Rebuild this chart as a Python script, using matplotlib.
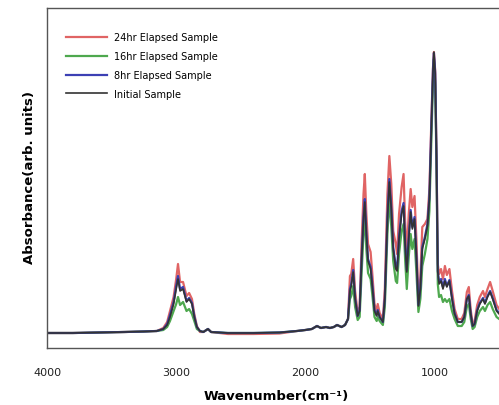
import numpy as np
import matplotlib.pyplot as plt

plt.rcParams['font.family'] = ['DejaVu Sans']

# FTIR spectra, absorbance in arbitrary units
wavenumber = [4000, 3800, 3600, 3400, 3250, 3150, 3100, 3070, 3048, 3020,
              3000, 2986, 2970, 2947, 2920, 2900, 2878, 2860, 2840, 2816,
              2790, 2754, 2730, 2600, 2400, 2200, 2065, 2000, 1950, 1910,
              1880, 1840, 1810, 1780, 1755, 1720, 1693, 1670, 1655, 1645,
              1630, 1615, 1595, 1580, 1565, 1550, 1540, 1528, 1515, 1495,
              1480, 1465, 1448, 1440, 1425, 1400, 1385, 1365, 1350, 1335,
              1320, 1300, 1290, 1275, 1255, 1240, 1228, 1215, 1200, 1185,
              1172, 1155, 1140, 1125, 1110, 1095, 1075, 1055, 1040, 1025,
              1012, 1005, 995, 985, 975, 965, 950, 935, 920, 905,
              885, 865, 845, 820, 790, 770, 750, 735, 720, 705,
              690, 670, 650, 625, 610, 590, 570, 550, 520, 500,
              470, 440, 400]

initial = [15, 15, 15.5, 16, 16.5, 17, 19, 23, 31, 44,
           59, 69, 57, 59, 46, 49, 44, 31, 21, 17,
           16, 19, 16, 15, 15, 15.5, 17, 18, 19, 22,
           20, 21, 20, 21, 23, 21, 23, 29, 57, 62,
           76, 49, 32, 37, 87, 129, 146, 114, 87, 79,
           59, 37, 32, 37, 31, 26, 49, 129, 166, 139,
           99, 79, 77, 109, 134, 142, 104, 76, 109, 136,
           119, 129, 89, 42, 59, 99, 109, 122, 149, 219,
           277, 296, 274, 189, 76, 64, 67, 59, 67, 61,
           67, 49, 34, 26, 26, 31, 49, 52, 34, 22,
           24, 37, 44, 49, 44, 51, 56, 49, 37, 34,
           31, 34, 31]

hr8 = [15, 15, 15.5, 16, 16.5, 17, 19, 24, 33, 46,
       62, 72, 59, 61, 47, 50, 45, 32, 21, 17,
       16, 19, 16, 15, 15, 15.5, 17, 18, 19, 22,
       20, 21, 20, 21, 23, 21, 23, 29, 59, 64,
       78, 50, 32, 38, 89, 132, 149, 116, 89, 81,
       61, 38, 33, 38, 31, 26, 50, 131, 169, 141,
       101, 81, 79, 111, 137, 145, 106, 78, 111, 138,
       121, 131, 91, 43, 60, 101, 111, 124, 151, 221,
       279, 295, 275, 191, 77, 66, 69, 61, 69, 62,
       68, 50, 35, 26, 26, 31, 49, 53, 34, 22,
       24, 38, 45, 50, 45, 52, 57, 50, 38, 35,
       32, 35, 32]

hr16 = [15, 15, 15.5, 16, 16.5, 17, 18, 21, 27, 37,
        44, 51, 43, 46, 37, 39, 34, 27, 19, 17,
        16, 19, 16, 15, 15, 15.5, 17, 18, 19, 22,
        20, 21, 20, 21, 23, 21, 23, 29, 49, 52,
        62, 41, 28, 31, 74, 114, 132, 99, 75, 69,
        51, 31, 27, 31, 27, 23, 41, 114, 149, 121,
        87, 67, 65, 94, 117, 124, 89, 59, 91, 114,
        99, 109, 74, 36, 49, 82, 94, 109, 137, 207,
        267, 289, 264, 179, 64, 51, 53, 46, 49, 46,
        49, 37, 29, 22, 22, 26, 41, 44, 29, 19,
        21, 31, 37, 41, 37, 43, 46, 39, 31, 29,
        27, 29, 27]

hr24 = [15, 15, 15.5, 16, 16.5, 17, 20, 26, 37, 51,
        69, 84, 66, 66, 52, 55, 49, 34, 22, 16,
        16, 19, 16, 14, 14, 14.5, 17, 18, 19, 22,
        20, 21, 20, 21, 23, 21, 23, 29, 72, 74,
        89, 57, 35, 41, 104, 154, 174, 134, 104, 96,
        71, 44, 37, 44, 35, 29, 59, 154, 192, 164,
        117, 104, 94, 134, 161, 174, 127, 94, 134, 159,
        141, 152, 107, 49, 71, 121, 124, 129, 159, 227,
        281, 296, 277, 194, 84, 74, 79, 69, 82, 73,
        79, 57, 39, 29, 29, 35, 56, 61, 38, 24,
        27, 43, 51, 57, 51, 59, 66, 57, 43, 39,
        36, 39, 36]

fig = plt.figure(figsize=(4.99, 4.06), dpi=100)
ax = fig.add_axes([0.0942, 0.1404, 0.932, 0.8374])

ax.plot(wavenumber, hr24, color='#e06464', lw=1.6, label='24hr Elapsed Sample')
ax.plot(wavenumber, hr16, color='#4ea84e', lw=1.6, label='16hr Elapsed Sample')
ax.plot(wavenumber, hr8, color='#3c40b4', lw=1.6, label='8hr Elapsed Sample')
ax.plot(wavenumber, initial, color='#333333', lw=1.2, label='Initial Sample')

ax.set_xlim(4000, 400)
ax.set_ylim(0, 340)
ax.set_xticks([4000, 3000, 2000, 1000])
ax.set_yticks([])
ax.tick_params(axis='x', length=0, pad=14, labelsize=8, labelcolor='#222222')
for s in ax.spines.values():
    s.set_color('#555555')
    s.set_linewidth(1.0)

ax.set_xlabel('Wavenumber(cm⁻¹)', fontsize=9.5, fontweight='bold')
ax.xaxis.set_label_coords(0.492, -0.122)
ax.set_ylabel('Absorbance(arb. units)', fontsize=9.5, fontweight='bold')
ax.yaxis.set_label_coords(-0.024, 0.503)

ax.legend(loc='upper left', bbox_to_anchor=(0.04, 0.928), frameon=False,
          fontsize=7, handlelength=4.3, handletextpad=0.7, labelspacing=0.9,
          borderaxespad=0, borderpad=0)

plt.savefig('out.png', dpi=100)
